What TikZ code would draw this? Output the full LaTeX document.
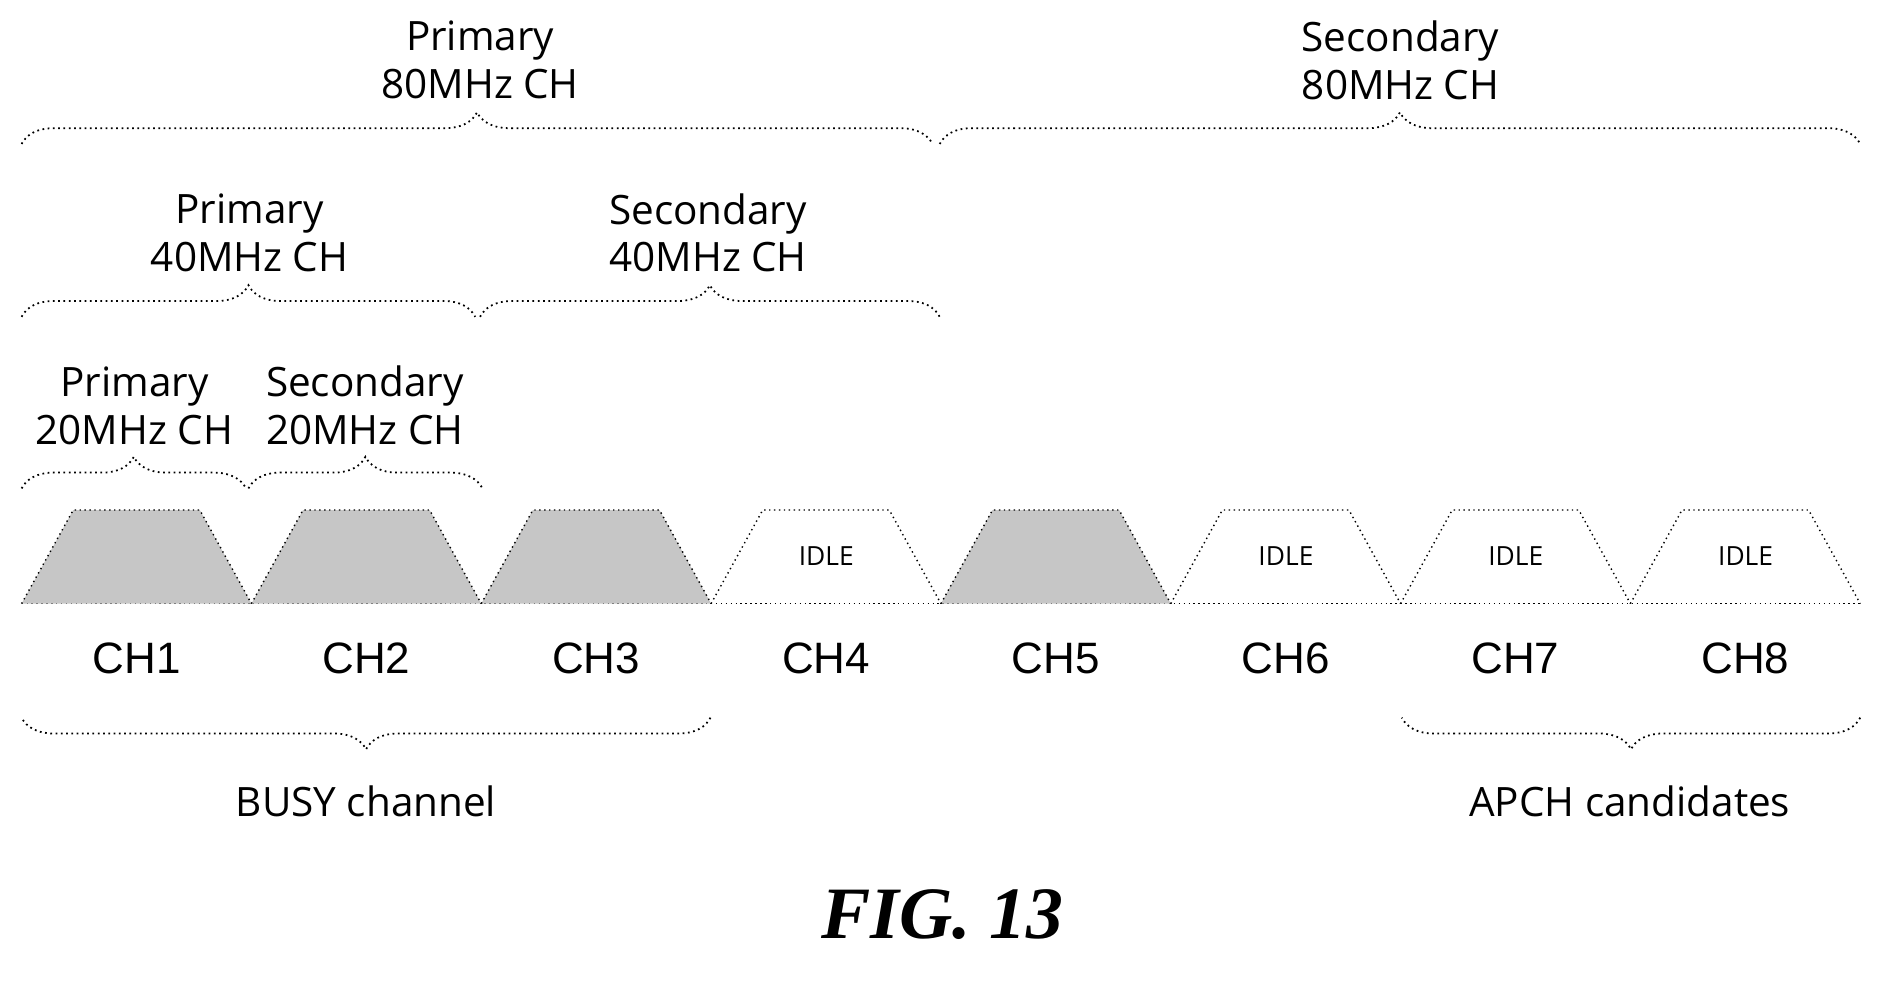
\documentclass[tikz,border=0pt]{standalone}
\usepackage{fontspec}
\setmainfont{Open Sans}
\newfontfamily\figfont{Liberation Serif}
\usetikzlibrary{decorations.pathreplacing,patterns}
\begin{document}
\begin{tikzpicture}[x=0.012cm,y=0.012cm,
  br/.style={decorate,decoration={brace,amplitude=9pt},densely dotted,line width=0.5pt},
  lab/.style={font=\fontsize{11.5}{13.6}\selectfont,align=center,inner sep=0pt},
  ch/.style={font=\fontspec{Liberation Sans}\fontsize{12.5}{15}\selectfont,inner sep=0pt},
  busy/.style={draw,densely dotted,fill=gray!45},
  idle/.style={draw,densely dotted},
  idl/.style={font=\fontsize{7.5}{9}\selectfont,inner sep=0pt}]
\useasboundingbox (0,0) rectangle (1564,-825);
% baseline
\draw[densely dotted] (18,-503) -- (1550,-503);
\foreach \i/\t in {1/busy,2/busy,3/busy,4/idle,5/busy,6/idle,7/idle,8/idle}{
  \pgfmathsetmacro\xa{18+191.5*(\i-1)}
  \pgfmathsetmacro\xb{\xa+191.5}
  \draw[\t] (\xa,-503) -- (\xa+43,-425) -- (\xb-43,-425) -- (\xb,-503);
  \node[ch] (c\i) at ({(\xa+\xb)/2},-549) {CH\i};
}
\foreach \i in {4,6,7,8}{
  \node[idl] (i\i) at ({18+191.5*(\i-1)+96},-463) {IDLE};
}
% 20 MHz
\draw[br] (18,-407) -- (205,-407);
\draw[br] (207,-407) -- (402,-407);
\node[lab] (p20) at (112,-338) {Primary\\20MHz CH};
\node[lab] (s20) at (304,-338) {Secondary\\20MHz CH};
% 40 MHz
\draw[br] (18,-264) -- (396,-264);
\draw[br] (400,-264) -- (783,-264);
\node[lab] (p40) at (208,-194) {Primary\\40MHz CH};
\node[lab] (s40) at (590,-194) {Secondary\\40MHz CH};
% 80 MHz
\draw[br] (18,-120) -- (777,-120);
\draw[br] (783,-120) -- (1550,-120);
\node[lab] (p80) at (400,-50) {Primary\\80MHz CH};
\node[lab] (s80) at (1167,-50) {Secondary\\80MHz CH};
% bottom
\draw[br] (592,-598) -- (18,-598);
\draw[br] (1550,-598) -- (1168,-598);
\node[lab] (busy) at (305,-668) {BUSY channel};
\node[lab] (apch) at (1358,-668) {APCH candidates};
\node[inner sep=0pt,font=\figfont\bfseries\itshape\fontsize{21}{24}\selectfont] (fig) at (785,-762) {FIG. 13};
\end{tikzpicture}
\end{document}
